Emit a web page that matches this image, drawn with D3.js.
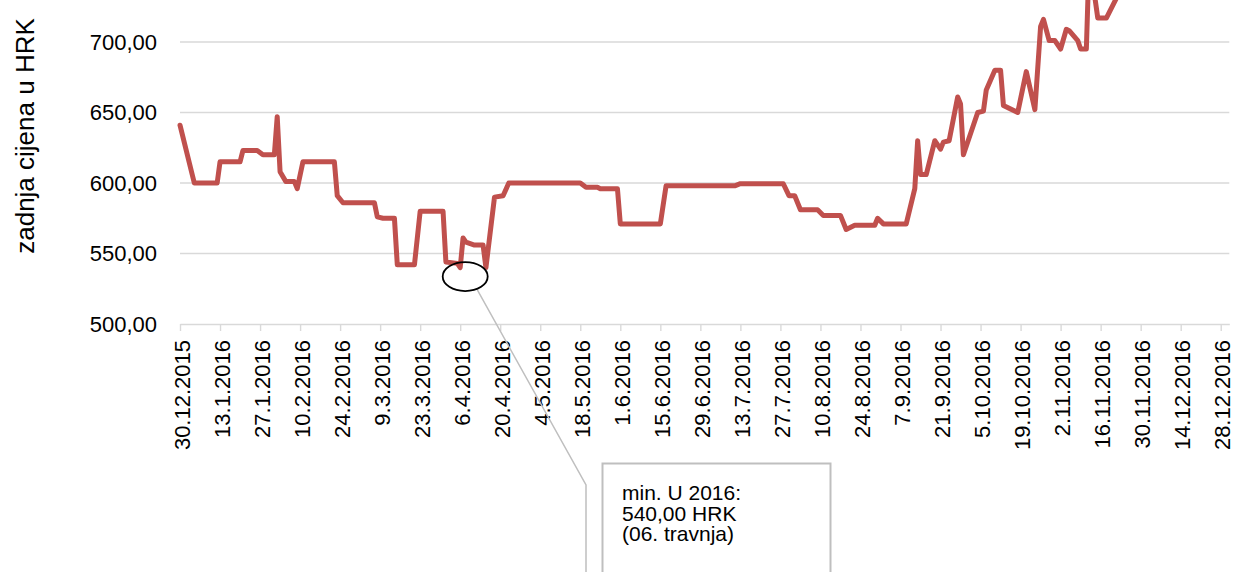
<!DOCTYPE html>
<html>
<head>
<meta charset="utf-8">
<script src="https://cdn.jsdelivr.net/npm/d3@7"></script>
<style>
  body { margin: 0; background: #fff; }
  svg { display: block; font-family: "Liberation Sans", Arial, sans-serif; }
</style>
</head>
<body>
<div id="chart"></div>
<script>
// Price data (last price in HRK)
var priceDates = [
  "2015-12-30", "2016-01-04", "2016-01-12", "2016-01-13", "2016-01-20", "2016-01-21",
  "2016-01-26", "2016-01-28", "2016-02-01", "2016-02-02", "2016-02-03", "2016-02-05",
  "2016-02-08", "2016-02-09", "2016-02-11", "2016-02-22", "2016-02-23", "2016-02-25",
  "2016-03-07", "2016-03-08", "2016-03-10", "2016-03-14", "2016-03-15", "2016-03-21",
  "2016-03-23", "2016-03-31", "2016-04-01", "2016-04-05", "2016-04-06", "2016-04-07",
  "2016-04-08", "2016-04-11", "2016-04-14", "2016-04-15", "2016-04-18", "2016-04-21",
  "2016-04-23", "2016-05-18", "2016-05-20", "2016-05-24", "2016-05-25", "2016-05-31",
  "2016-06-01", "2016-06-15", "2016-06-17", "2016-07-11", "2016-07-13", "2016-07-28",
  "2016-07-30", "2016-08-01", "2016-08-03", "2016-08-09", "2016-08-11", "2016-08-17",
  "2016-08-19", "2016-08-22", "2016-08-29", "2016-08-30", "2016-09-01", "2016-09-09",
  "2016-09-12", "2016-09-13", "2016-09-14", "2016-09-16", "2016-09-19", "2016-09-21",
  "2016-09-22", "2016-09-24", "2016-09-27", "2016-09-28", "2016-09-29", "2016-10-04",
  "2016-10-06", "2016-10-07", "2016-10-10", "2016-10-12", "2016-10-13", "2016-10-18",
  "2016-10-21", "2016-10-24", "2016-10-26", "2016-10-27", "2016-10-29", "2016-10-31",
  "2016-11-02", "2016-11-04", "2016-11-05", "2016-11-08", "2016-11-09", "2016-11-11",
  "2016-11-12", "2016-11-15", "2016-11-18", "2016-11-23"
];

var priceValues = [
  641, 600, 600, 615, 615, 623,
  623, 620, 620, 647, 608, 601,
  601, 596, 615, 615, 591, 586,
  586, 576, 575, 575, 542, 542,
  580, 580, 544, 543, 540, 561,
  558, 556, 556, 540, 590, 591,
  600, 600, 597, 597, 596, 596,
  571, 571, 598, 598, 599.5, 599.5,
  591, 591, 581, 581, 577, 577,
  567, 570, 570, 575, 571, 571,
  596, 630, 606, 606, 630, 624,
  629, 630, 661, 656, 620, 650,
  651, 666, 680, 680, 655, 650,
  679, 652, 711, 716, 701, 701,
  695, 709, 708, 701, 695, 695,
  760, 717, 717, 737
];

var xTickLabels = [
  "30.12.2015", "13.1.2016", "27.1.2016", "10.2.2016", "24.2.2016", "9.3.2016",
  "23.3.2016", "6.4.2016", "20.4.2016", "4.5.2016", "18.5.2016", "1.6.2016",
  "15.6.2016", "29.6.2016", "13.7.2016", "27.7.2016", "10.8.2016", "24.8.2016",
  "7.9.2016", "21.9.2016", "5.10.2016", "19.10.2016", "2.11.2016", "16.11.2016",
  "30.11.2016", "14.12.2016", "28.12.2016"
];

var yTickValues = [500, 550, 600, 650, 700];

var yTitle = "zadnja cijena u HRK";
var noteLines = ["min. U 2016:", "540,00 HRK", "(06. travnja)"];
var minDate = "2016-04-06", minValue = 540;

var parseDate = d3.timeParse("%Y-%m-%d");
var parseTick = d3.timeParse("%d.%m.%Y");
var fmtTick = d3.timeFormat("%-d.%-m.%Y");

var data = priceDates.map(function(d, i) {
  return { date: parseDate(d), value: priceValues[i] };
});

var width = 1234, height = 572;

var svg = d3.select('#chart')
  .append('svg')
  .attr('width', width)
  .attr('height', height);

// scales
var x = d3.scaleTime()
  .domain([parseDate("2015-12-30"), parseDate("2016-12-31")])
  .range([180, 1229.3]);

var y = d3.scaleLinear()
  .domain([500, 700])
  .range([324, 42]);

// gridlines
svg.append('g')
  .selectAll('line')
  .data(yTickValues.slice(1))
  .enter().append('line')
  .attr('x1', x.range()[0])
  .attr('x2', x.range()[1])
  .attr('y1', function(d) { return y(d); })
  .attr('y2', function(d) { return y(d); })
  .attr('stroke', '#d9d9d9')
  .attr('stroke-width', 1.4);

// y axis labels
var y_axis = d3.axisLeft(y)
  .tickValues(yTickValues)
  .tickSize(0)
  .tickPadding(23)
  .tickFormat(function(d) { return d3.format(".2f")(d).replace(".", ","); });

var gy = svg.append('g')
  .attr('transform', 'translate(' + x.range()[0] + ',0)')
  .call(y_axis);
gy.select('.domain').remove();
gy.selectAll('text')
  .attr('font-size', 22)
  .attr('font-family', '"Liberation Sans", Arial, sans-serif')
  .attr('fill', '#000');

// x axis
var x_axis = d3.axisBottom(x)
  .tickValues(xTickLabels.map(parseTick))
  .tickFormat(fmtTick)
  .tickSizeInner(7)
  .tickSizeOuter(0);

var gx = svg.append('g')
  .attr('transform', 'translate(0,' + y(500) + ')')
  .call(x_axis);
gx.select('.domain')
  .attr('stroke', '#d9d9d9')
  .attr('stroke-width', 1.4);
gx.selectAll('.tick line')
  .attr('stroke', '#d9d9d9')
  .attr('stroke-width', 1.4);
gx.selectAll('text')
  .attr('transform', 'rotate(-90)')
  .attr('text-anchor', 'end')
  .attr('x', -16)
  .attr('y', 1.5)
  .attr('dy', '0.35em')
  .attr('font-size', 22)
  .attr('font-family', '"Liberation Sans", Arial, sans-serif')
  .attr('fill', '#000');

// y axis title
svg.append('text')
  .attr('transform', 'translate(34,136) rotate(-90)')
  .attr('text-anchor', 'middle')
  .attr('font-size', 26)
  .attr('fill', '#000')
  .text(yTitle);

// price line
var line = d3.line()
  .x(function(d) { return x(d.date); })
  .y(function(d) { return y(d.value); });

svg.append('path')
  .attr('d', line(data))
  .attr('fill', 'none')
  .attr('stroke', '#c0504d')
  .attr('stroke-width', 5)
  .attr('stroke-linejoin', 'round')
  .attr('stroke-linecap', 'round');

// callout for the minimum
var mx = x(parseDate(minDate)) + 5,
    my = y(minValue) + 9;

svg.append('path')
  .attr('d', 'M' + (mx + 12) + ',' + (my + 13) + 'L586,485L586,' + height)
  .attr('fill', 'none')
  .attr('stroke', '#bfbfbf')
  .attr('stroke-width', 1.5);

svg.append('ellipse')
  .attr('cx', mx)
  .attr('cy', my)
  .attr('rx', 22.5)
  .attr('ry', 14.5)
  .attr('fill', 'none')
  .attr('stroke', '#000')
  .attr('stroke-width', 1.8);

svg.append('rect')
  .attr('x', 602.5)
  .attr('y', 463.5)
  .attr('width', 228)
  .attr('height', 140)
  .attr('fill', '#fff')
  .attr('stroke', '#bfbfbf')
  .attr('stroke-width', 2);

svg.append('g')
  .selectAll('text')
  .data(noteLines)
  .enter().append('text')
  .attr('x', 622)
  .attr('y', function(d, i) { return 500 + i * 20.7; })
  .attr('font-size', 21)
  .attr('fill', '#000')
  .text(function(d) { return d; });
</script>
</body>
</html>
